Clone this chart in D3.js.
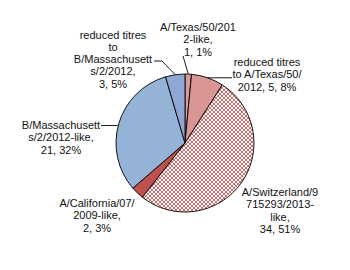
<!DOCTYPE html>
<html>
<head>
<meta charset="utf-8">
<script src="https://cdn.jsdelivr.net/npm/d3@7"></script>
<style>
  body { margin: 0; background: #fff; }
  text { font-family: "Liberation Sans", Arial, sans-serif; font-size: 11px; fill: #111; }
</style>
</head>
<body>
<div id="vis"></div>
<script>
const width = 350, height = 270;
const cx = 185, cy = 143, radius = 69;

// data, clockwise from 12 o'clock
const categories = [
    "A/Texas/50/2012-like",
    "reduced titres to A/Texas/50/2012",
    "A/Switzerland/9715293/2013-like",
    "A/California/07/2009-like",
    "B/Massachusetts/2/2012-like",
    "reduced titres to B/Massachusetts/2/2012"
];
const counts = [1, 5, 34, 2, 21, 3];
const percents = ["1%", "8%", "51%", "3%", "32%", "5%"];

// how the labels wrap in the original
const labelLines = [
    ["A/Texas/50/201", "2-like,", "1, 1%"],
    ["reduced titres", "to A/Texas/50/", "2012, 5, 8%"],
    ["A/Switzerland/9", "715293/2013-", "like,", "34, 51%"],
    ["A/California/07/", "2009-like,", "2, 3%"],
    ["B/Massachusett", "s/2/2012-like,", "21, 32%"],
    ["reduced titres", "to", "B/Massachusett", "s/2/2012,", "3, 5%"]
];
// label block centre x and first line centre y
const labelPos = [[198, 27], [267, 62], [280, 192], [97, 203], [61, 125], [113, 34.5]];
const lineH = 12.3;

const fills = ["#dc9a98", "#d99694", "url(#checker)", "#c0504d", "#95b3d7", "#8fa8d3"];

const svg = d3.select("#vis").append("svg")
    .attr("width", width)
    .attr("height", height);

// small checkerboard for the big slice
const pat = svg.append("defs").append("pattern")
    .attr("id", "checker")
    .attr("patternUnits", "userSpaceOnUse")
    .attr("width", 4).attr("height", 4);
pat.append("rect").attr("width", 4).attr("height", 4).attr("fill", "#fff");
pat.append("rect").attr("width", 2).attr("height", 2).attr("fill", "#cf6e6c");
pat.append("rect").attr("x", 2).attr("y", 2).attr("width", 2).attr("height", 2).attr("fill", "#cf6e6c");

const pie = d3.pie().sort(null).value(d => d)(counts);
const arc = d3.arc().innerRadius(0).outerRadius(radius);

const g = svg.append("g").attr("transform", `translate(${cx},${cy})`);

g.selectAll("path")
    .data(pie)
    .enter()
    .append("path")
    .attr("d", arc)
    .attr("fill", (d, i) => fills[i])
    .attr("stroke", "#000")
    .attr("stroke-width", 0.9);

// point on the rim at a slice's middle angle
function rim(d) {
    const a = (d.startAngle + d.endAngle) / 2;
    return [cx + radius * Math.sin(a), cy - radius * Math.cos(a)];
}

// leader lines
const leaders = [
    d => [[labelPos[0][0] - 15, 56], rim(d)],
    d => { const p = rim(d); return [p, [232, p[1]]]; },
    null,
    null,
    d => { const p = rim(d); return [[101, p[1] + 2], [p[0] - 1, p[1] + 2]]; },
    d => [[154, 61], [162, 61], rim(d)]
];
pie.forEach((d, i) => {
    if (!leaders[i]) return;
    svg.append("path")
        .attr("d", d3.line()(leaders[i](d)))
        .attr("fill", "none")
        .attr("stroke", "#000")
        .attr("stroke-width", 0.9);
});

// data labels
labelLines.forEach((lines, i) => {
    const t = svg.append("text")
        .attr("text-anchor", "middle")
        .attr("x", labelPos[i][0])
        .attr("y", labelPos[i][1] + 4);
    lines.forEach((s, j) => {
        t.append("tspan")
            .attr("x", labelPos[i][0])
            .attr("dy", j === 0 ? 0 : lineH)
            .text(s);
    });
});
</script>
</body>
</html>
